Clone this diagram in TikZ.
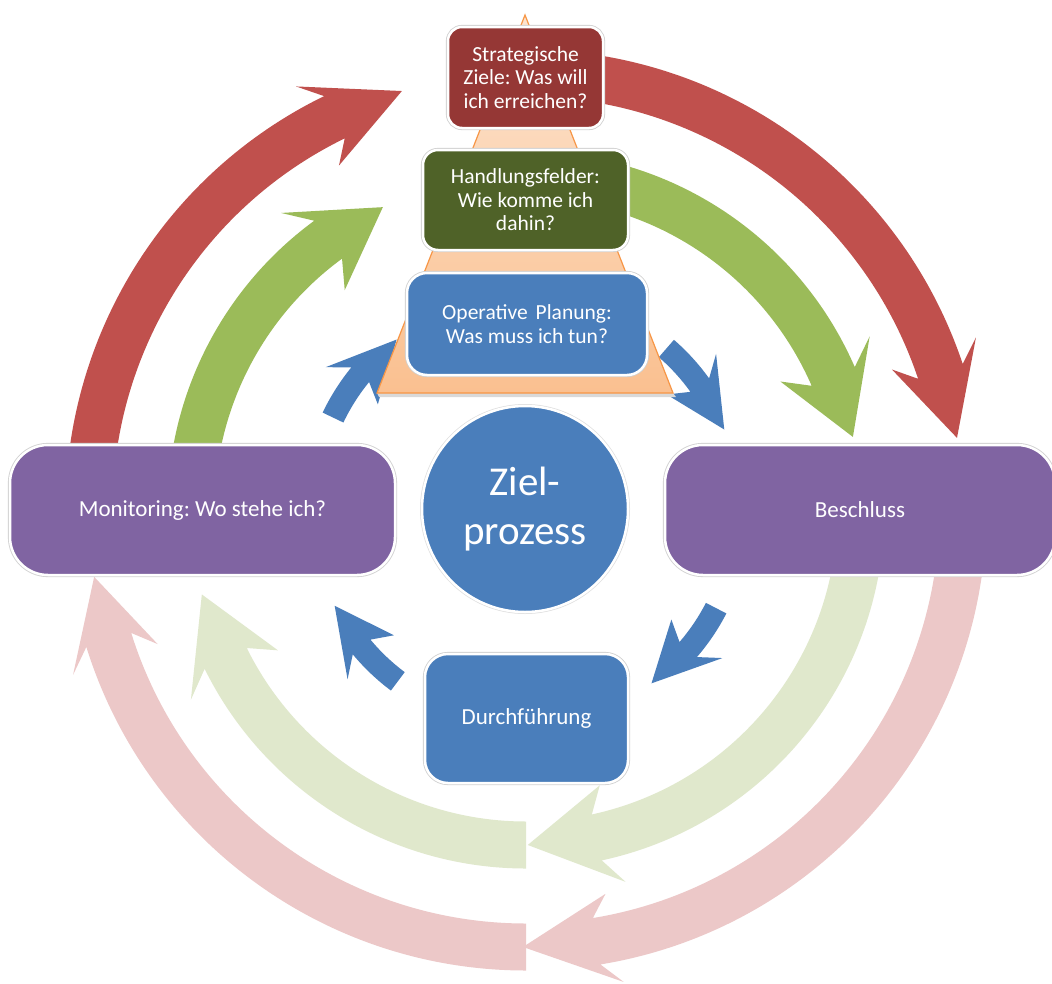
\documentclass[tikz,border=0pt]{standalone}
\usepackage{fontspec}
\setmainfont{Carlito}
\frenchspacing
\definecolor{dred}{HTML}{C0504D}
\definecolor{lred}{HTML}{ECC8C8}
\definecolor{dgreen}{HTML}{9BBB59}
\definecolor{lgreen}{HTML}{E0E8CC}
\definecolor{blu}{HTML}{4A7EBB}
\definecolor{purp}{HTML}{8064A2}
\definecolor{boxred}{HTML}{953735}
\definecolor{boxgreen}{HTML}{4F6228}
\definecolor{pyrfill}{HTML}{FAC090}
\definecolor{pyrtop}{HTML}{FDE4CF}
\definecolor{pyredge}{HTML}{F79646}
% #1 style, #2 radius, #3 shaft width, #4 head half width, #5 tail angle, #6 notch angle, #7 barb angle, #8 tip angle
\newcommand{\carrow}[8]{%
  \fill[#1] (#5:{#2+#3/2}) arc[start angle=#5, end angle=#6, radius={#2+#3/2}]
    -- (#7:{#2+#4}) -- (#8:#2) -- (#7:{#2-#4}) -- (#6:{#2-#3/2})
    arc[start angle=#6, end angle=#5, radius={#2-#3/2}] -- cycle;}
\tikzset{
  box/.style={rounded corners=#1, draw=white, line width=2.5pt,
    preaction={draw=black!18, line width=4.2pt},
    text=white, align=center, inner sep=0pt},
  fsmall/.style={font=\fontsize{21.5}{23.5}\selectfont},
  fbig/.style={font=\fontsize{23}{28}\selectfont},
}
\begin{document}
\begin{tikzpicture}[x=1pt,y=1pt]
\useasboundingbox (0,0) rectangle (1052,-983);
\fill[white] (0,0) rectangle (1052,-983);

% big circular arrows around the centre
\begin{scope}[shift={(526,-510)}]
  % outer ring (red)
  \carrow{dred}{437}{47}{45}{185}{116}{118.5}{106.5}
  \carrow{dred}{437}{47}{45}{85}{18.5}{21}{9.5}
  \carrow{lred}{437}{47}{45}{-5}{-80.7}{-78.3}{-90.4}
  \carrow{lred}{437}{47}{45}{270}{197.3}{200}{188.8}
  % inner ring (green)
  \carrow{dgreen}{335}{47}{50}{185}{126.2}{129.5}{115.3}
  \carrow{dgreen}{335}{47}{50}{80}{23.5}{26.8}{12.6}
  \carrow{lgreen}{335}{47}{50}{-5}{-77.8}{-75}{-89.7}
  \carrow{lgreen}{335}{47}{50}{270}{206.3}{209.5}{194.6}
  % small blue arrows
  \carrow{blu}{214}{23}{32}{154.4}{140.8}{144.5}{127.2}
  \carrow{blu}{214}{23}{32}{49}{35.7}{39.4}{22.1}
  \carrow{blu}{214}{23}{32}{-27.3}{-40.7}{-37}{-54.1}
  \carrow{blu}{214}{23}{32}{-126.8}{-140.2}{-136.5}{-153.4}
\end{scope}

% pyramid
\coordinate (apex) at (525,-15);
\coordinate (bl) at (377,-393);
\coordinate (br) at (673,-393);
\fill[black!15] (379,-397) -- (676,-397) -- (673,-393) -- (377,-393) -- cycle;
\shadedraw[top color=pyrtop, bottom color=pyrfill, draw=pyredge, line width=1.2pt]
  (apex) -- (br) -- (bl) -- cycle;

% boxes
\node[box=14, fill=boxred, minimum width=155pt, minimum height=101pt, fsmall]
  (strat) at (525.5,-77.5) {Strategische\\Ziele: Was will\\ich erreichen?};
\node[box=15, fill=boxgreen, minimum width=205pt, minimum height=100pt, fsmall]
  (hand) at (525.5,-200) {Handlungsfelder:\\Wie komme ich\\dahin?};
\node[box=20, fill=blu, minimum width=240pt, minimum height=102pt, fsmall]
  (oper) at (527,-324) {Operative\hspace{3pt} Planung:\\Was muss ich tun?};
\node[box=38, fill=purp, minimum width=385pt, minimum height=130pt, fbig]
  (moni) at (202.5,-510) {Monitoring: Wo stehe ich?};
\node[box=38, fill=purp, minimum width=390pt, minimum height=130pt, fbig]
  (besch) at (860,-510) {Beschluss};
\node[box=23, fill=blu, minimum width=203pt, minimum height=129pt, fbig]
  (durch) at (526.5,-718.5) {Durchführung};
\node[circle, fill=blu, draw=white, line width=2.5pt,
  preaction={draw=black!12, line width=4pt},
  minimum size=206pt, inner sep=0pt, text=white, align=center,
  font=\fontsize{41}{49}\selectfont] (ziel) at (525,-509) {Ziel-\\prozess};
\end{tikzpicture}
\end{document}
